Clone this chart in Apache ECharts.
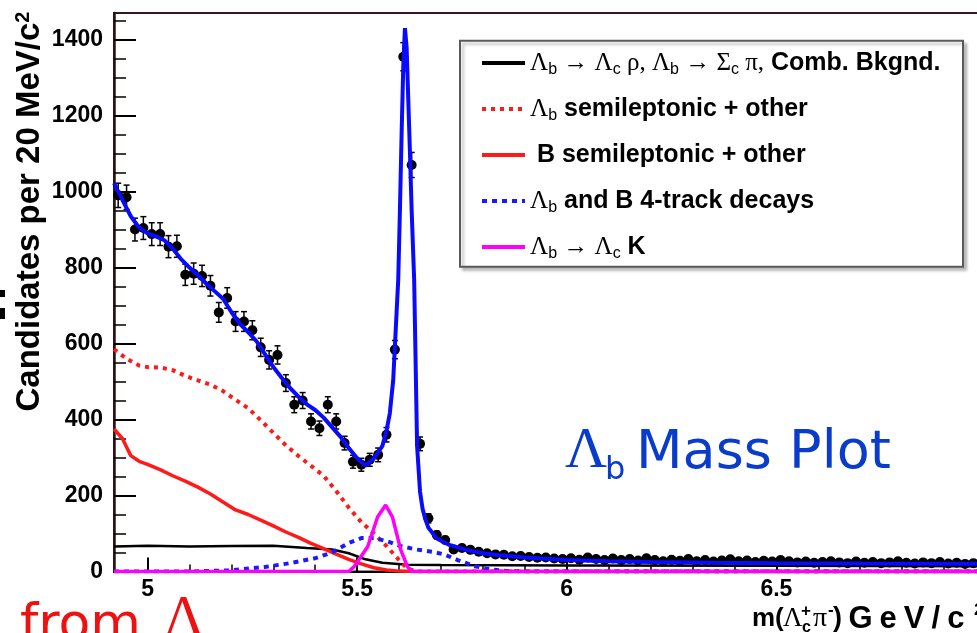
<!DOCTYPE html>
<html><head><meta charset="utf-8">
<script src="https://cdn.jsdelivr.net/npm/echarts@6/dist/echarts.min.js"></script>
<style>html,body{margin:0;padding:0;background:#fff}#c{width:977px;height:633px}</style>
</head><body><div id="c"></div><script>
// ---- data ----
const binCenters = [4.93,4.95,4.97,4.99,
 5.01,5.03,5.05,5.07,5.09,5.11,5.13,5.15,5.17,5.19,5.21,5.23,5.25,5.27,5.29,5.31,5.33,5.35,5.37,5.39,5.41,5.43,5.45,5.47,5.49,
 5.51,5.53,5.55,5.57,5.59,5.61,5.63,5.65,5.67,5.69,5.71,5.73,5.75,5.77,5.79,5.81,5.83,5.85,5.87,5.89,5.91,5.93,5.95,5.97,5.99,
 6.01,6.03,6.05,6.07,6.09,6.11,6.13,6.15,6.17,6.19,6.21,6.23,6.25,6.27,6.29,6.31,6.33,6.35,6.37,6.39,6.41,6.43,6.45,6.47,6.49,
 6.51,6.53,6.55,6.57,6.59,6.61,6.63,6.65,6.67,6.69,6.71,6.73,6.75,6.77,6.79,6.81,6.83,6.85,6.87,6.89,6.91,6.93,6.95,6.97,6.99];
const counts = [990,985,900,904,888,888,855,856,781,784,778,752,682,720,658,658,635,590,557,570,
 496,439,450,395,377,439,395,338,289,281,294,307,360,584,1355,1070,336,140,96,83,
 58,62,57,52,48,45,44,40,41,38,36,37,34,33,
 35,31,37,33,30,34,30,33,29,35,30,27,31,28,33,27,30,26,29,32,
 27,29,25,28,26,30,27,24,26,23,25,27,24,22,26,23,25,22,24,27,
 23,21,24,22,25,21,23,20,22,21];
const countErrors = [32,32,30,30,30,30,29,29,28,28,28,27,26,27,26,26,25,24,24,24,
 22,21,21,20,19,21,20,18,17,17,17,18,19,24,37,33,18,12,10,9,
 8,8,8,7,7,7,7,6,6,6,6,6,6,6,
 6,6,6,6,5,6,5,6,5,6,5,5,6,5,6,5,5,5,5,6,
 5,5,5,5,5,5,5,5,5,5,5,5,5,5,5,5,5,5,5,5,
 5,5,5,5,5,5,5,5,5,5];

const totalFitX = [4.92,4.94,4.96,4.98,5.00,5.02,5.04,5.06,5.08,5.10,5.12,5.14,5.16,5.18,5.20,5.22,5.24,5.26,5.28,5.30,
 5.32,5.34,5.36,5.38,5.40,5.42,5.44,5.46,5.48,5.50,5.52,5.54,5.56,5.57,5.578,5.586,5.59,5.594,5.598,5.602,5.606,5.61,5.614,
 5.618,5.622,5.626,5.63,5.636,5.643,5.65,5.656,5.662,5.67,5.69,5.72,5.76,5.80,5.84,5.90,6.00,6.10,6.20,6.35,6.50,6.70,7.00];
const totalFitY = [1022,978,935,905,890,882,872,850,822,800,780,758,738,718,683,652,630,606,572,538,
 510,483,460,440,425,405,380,355,325,298,278,298,330,370,417,504,592,680,768,950,1150,1330,1430,
 1380,1240,1100,950,768,330,210,165,140,115,87,70,57,48,43,37,30,27,25,23,22,21,20];

const lbSemiX = [4.92,4.95,4.98,5.00,5.03,5.06,5.09,5.12,5.15,5.18,5.21,5.24,5.27,5.30,5.33,5.36,5.39,5.42,5.45,5.48,5.51,5.54,5.57,5.60,5.62,5.64,7.00];
const lbSemiY = [585,560,542,538,537,530,515,503,492,475,452,430,398,365,332,304,278,252,212,168,130,100,67,30,8,0,0];

const bSemiX = [4.92,4.94,4.96,4.98,5.00,5.03,5.06,5.09,5.12,5.15,5.18,5.21,5.24,5.27,5.30,5.33,5.36,5.39,5.42,5.45,5.48,5.51,5.54,5.57,5.60,5.63,7.00];
const bSemiY = [375,350,305,290,282,268,252,238,222,204,183,162,150,135,120,104,90,74,60,46,32,20,10,4,1,0,0];

const combX = [4.92,5.00,5.10,5.20,5.30,5.38,5.44,5.48,5.52,5.56,5.62,5.70,6.00,6.50,7.00];
const combY = [66,68,66,67,68,62,58,48,32,23,18,17,16,15,14];

const fourTrackX = [4.92,5.10,5.20,5.28,5.34,5.40,5.44,5.48,5.51,5.54,5.57,5.60,5.64,5.68,5.71,5.74,5.78,5.82,5.86,5.90,7.00];
const fourTrackY = [0,0,3,12,22,35,50,75,88,88,80,68,58,52,44,30,14,5,1,0,0];

const lcKX = [4.92,5.48,5.493,5.525,5.549,5.568,5.584,5.604,5.62,5.63,7.00];
const lcKY = [0,0,13,65,144,175,144,57,13,0,0];

const xMajorTicks = [5, 5.5, 6, 6.5, 7];
const xMinorTicks = [5.1,5.2,5.3,5.4,5.6,5.7,5.8,5.9,6.1,6.2,6.3,6.4,6.6,6.7,6.8,6.9];
const yMajorTicks = [0,200,400,600,800,1000,1200,1400];
const yMinorTicks = [50,100,150,250,300,350,450,500,550,650,700,750,850,900,950,1050,1100,1150,1250,1300,1350,1450];

const seriesNames = ['comb','lbsemi','bsemi','fourtrack','lck'];
const legendLabels = {
  comb: '{g|Λ}{sb|b}{g| → Λ}{sb|c}{g| ρ, Λ}{sb|b}{g| → Σ}{sb|c}{g| π,} Comb. Bkgnd.',
  lbsemi: '{g|Λ}{sb|b} semileptonic + other',
  bsemi: ' B semileptonic + other',
  fourtrack: '{g|Λ}{sb|b} and B 4-track decays',
  lck: '{g|Λ}{sb|b}{g| → Λ}{sb|c} K'
};
// ---------------------------------------

const zip = (xs, ys) => xs.map((x, i) => [x, ys[i]]);
const chart = echarts.init(document.getElementById('c'), null, {renderer: 'canvas'});
const SANS = 'Liberation Sans';
const SERIF = 'Liberation Serif';

function lineSeries(name, xs, ys, color, width, type, z) {
  return {
    name, type: 'line', data: zip(xs, ys), symbol: 'none', showSymbol: false,
    smooth: false, z, clip: true,
    lineStyle: {color, width, type},
    itemStyle: {color}
  };
}

const option = {
  backgroundColor: '#fff',
  animation: false,
  grid: {left: 114, width: 872, top: 13, bottom: 61.5, show: true, borderColor: '#3a1818', borderWidth: 2,
    containLabel: false, outerBoundsMode: 'none'},
  xAxis: [{
    type: 'value', min: 4.92, max: 7.0, position: 'bottom',
    axisLine: {show: true, onZero: false, lineStyle: {color: '#000', width: 2}},
    axisTick: {show: true, inside: true, length: 14, customValues: xMajorTicks, lineStyle: {color: '#000', width: 2}},
    axisLabel: {show: true, customValues: xMajorTicks, color: '#000', fontSize: 23, fontWeight: 'bold', fontFamily: SANS, margin: 7,
      formatter: v => String(v)},
    splitLine: {show: false}
  }, {
    type: 'value', min: 4.92, max: 7.0, position: 'bottom', gridIndex: 0,
    axisLine: {show: false},
    axisTick: {show: true, inside: true, length: 7, customValues: xMinorTicks, lineStyle: {color: '#000', width: 1.5}},
    axisLabel: {show: false}, splitLine: {show: false}
  }],
  yAxis: [{
    type: 'value', min: 0, max: 1470, position: 'left',
    axisLine: {show: true, onZero: false, lineStyle: {color: '#2b1414', width: 2.5}},
    axisTick: {show: true, inside: true, length: 22, customValues: yMajorTicks, lineStyle: {color: '#000', width: 2}},
    axisLabel: {show: true, customValues: yMajorTicks, color: '#000', fontSize: 23, fontWeight: 'bold', fontFamily: SANS, margin: 11,
      formatter: v => String(v)},
    splitLine: {show: false}
  }, {
    type: 'value', min: 0, max: 1470, position: 'left', gridIndex: 0,
    axisLine: {show: false},
    axisTick: {show: true, inside: true, length: 12, customValues: yMinorTicks, lineStyle: {color: '#000', width: 1.5}},
    axisLabel: {show: false}, splitLine: {show: false}
  }],
  legend: {
    data: seriesNames, orient: 'vertical', left: 480, top: 48, padding: 0,
    itemGap: 16, itemWidth: 43, itemHeight: 14, z: 20,
    itemStyle: {opacity: 0},
    lineStyle: {width: 4},
    formatter: name => legendLabels[name],
    textStyle: {
      color: '#000', fontSize: 25, fontWeight: 'bold', fontFamily: SANS, lineHeight: 30,
      rich: {
        g: {fontFamily: SERIF, fontWeight: 'normal', fontSize: 25, lineHeight: 30, color: '#000'},
        sb: {fontFamily: SANS, fontWeight: 'normal', fontSize: 16, lineHeight: 15, verticalAlign: 'bottom', color: '#000'}
      }
    }
  },
  graphic: {elements: [
    {type: 'rect', z: 10, shape: {x: 460, y: 40.7, width: 503, height: 226},
     style: {fill: '#fff', stroke: '#5a5a5a', lineWidth: 2, shadowColor: 'rgba(0,0,0,0.25)', shadowBlur: 3, shadowOffsetX: 3, shadowOffsetY: 3}},
    {type: 'text', x: 30.3, y: 211.5, rotation: Math.PI / 2, z: 10,
     style: {text: 'Candidates per 20 MeV/c{sup|2}', fill: '#000', font: 'bold 33px "Liberation Sans"',
       align: 'center', verticalAlign: 'middle',
       rich: {sup: {fontSize: 20, fontWeight: 'bold', fontFamily: SANS, verticalAlign: 'top', lineHeight: 20, fill: '#000'}}}},
    // x axis title
    {type: 'text', x: 752, y: 619, z: 10, style: {text: 'm(', fill: '#000', font: 'bold 26px "Liberation Sans"', verticalAlign: 'middle'}},
    {type: 'text', x: 783, y: 619, z: 10, style: {text: 'Λ', fill: '#000', font: '27px "Liberation Serif"', verticalAlign: 'middle'}},
    {type: 'text', x: 801, y: 611, z: 10, style: {text: '+', fill: '#000', font: 'bold 17px "Liberation Sans"', verticalAlign: 'middle'}},
    {type: 'text', x: 802, y: 628, z: 10, style: {text: 'c', fill: '#000', font: 'bold 16px "Liberation Sans"', verticalAlign: 'middle'}},
    {type: 'text', x: 813, y: 619, z: 10, style: {text: 'π', fill: '#000', font: '28px "Liberation Serif"', verticalAlign: 'middle'}},
    {type: 'text', x: 828, y: 610, z: 10, style: {text: '-', fill: '#000', font: 'bold 17px "Liberation Sans"', verticalAlign: 'middle'}},
    {type: 'text', x: 833, y: 619, z: 10, style: {text: ')', fill: '#000', font: 'bold 27px "Liberation Sans"', verticalAlign: 'middle'}},
    {type: 'text', x: 845, y: 619, z: 10, style: {text: '{a|G}{a|e}{a|V}{a|/}{a|c}', fill: '#000', font: 'bold 31px "Liberation Sans"', verticalAlign: 'middle',
      rich: {a: {fontSize: 31, fontWeight: 'bold', fontFamily: SANS, padding: [0, 3.5, 0, 3.5], fill: '#000'}}}},
    {type: 'text', x: 974, y: 610, z: 10, style: {text: '2', fill: '#000', font: 'bold 17px "Liberation Sans"', verticalAlign: 'middle'}},
    // annotations on the slide
    {type: 'text', x: 565, y: 452, z: 10, style: {text: 'Λ', fill: '#0a3ccc', font: '58px "Liberation Serif"', verticalAlign: 'middle'}},
    {type: 'text', x: 605, y: 471, z: 10, style: {text: 'b', fill: '#0a3ccc', font: '32px "DejaVu Sans"', verticalAlign: 'middle'}},
    {type: 'text', x: 636, y: 454, z: 10, style: {text: 'Mass Plot', fill: '#0a3ccc', font: '54px "DejaVu Sans"', verticalAlign: 'middle'}},
    {type: 'text', x: 20, y: 626, z: 10, style: {text: 'from', fill: '#ee1111', font: '52px "DejaVu Sans"', verticalAlign: 'middle'}},
    {type: 'text', x: 163, y: 620, z: 10, style: {text: 'Λ', fill: '#ee1111', font: '58px "Liberation Serif"', verticalAlign: 'middle'}},
    {type: 'rect', z: 10, shape: {x: 0, y: 290, width: 5, height: 7}, style: {fill: '#000'}},
    {type: 'rect', z: 10, shape: {x: 0, y: 308, width: 5, height: 11}, style: {fill: '#000'}}
  ]},
  series: [
    {
      name: 'errors', type: 'custom', z: 2, silent: true,
      data: binCenters.map((x, i) => [x, counts[i], countErrors[i]]),
      renderItem: (params, api) => {
        const x = api.value(0), y = api.value(1), e = api.value(2);
        const lo = api.coord([x, y - e]), hi = api.coord([x, y + e]);
        const st = {stroke: '#000', lineWidth: 1.5};
        return {type: 'group', children: [
          {type: 'line', shape: {x1: lo[0], y1: lo[1], x2: hi[0], y2: hi[1]}, style: st},
          {type: 'line', shape: {x1: lo[0] - 3, y1: lo[1], x2: lo[0] + 3, y2: lo[1]}, style: st},
          {type: 'line', shape: {x1: hi[0] - 3, y1: hi[1], x2: hi[0] + 3, y2: hi[1]}, style: st}
        ]};
      }
    },
    {name: 'data', type: 'scatter', z: 2, symbol: 'circle', symbolSize: 10,
     itemStyle: {color: '#000', opacity: 1}, data: zip(binCenters, counts)},
    lineSeries('comb', combX, combY, '#000000', 2.5, 'solid', 3),
    lineSeries('lbsemi', lbSemiX, lbSemiY, '#ff1a1a', 4, [4, 5], 3),
    lineSeries('bsemi', bSemiX, bSemiY, '#ff1a1a', 3.5, 'solid', 3),
    lineSeries('fourtrack', fourTrackX, fourTrackY, '#1a1aff', 4, [5, 5], 3),
    lineSeries('lck', lcKX, lcKY, '#ff00ff', 3.5, 'solid', 3),
    lineSeries('total', totalFitX, totalFitY, '#0a0aff', 4, 'solid', 4)
  ]
};
chart.setOption(option);
</script></body></html>
